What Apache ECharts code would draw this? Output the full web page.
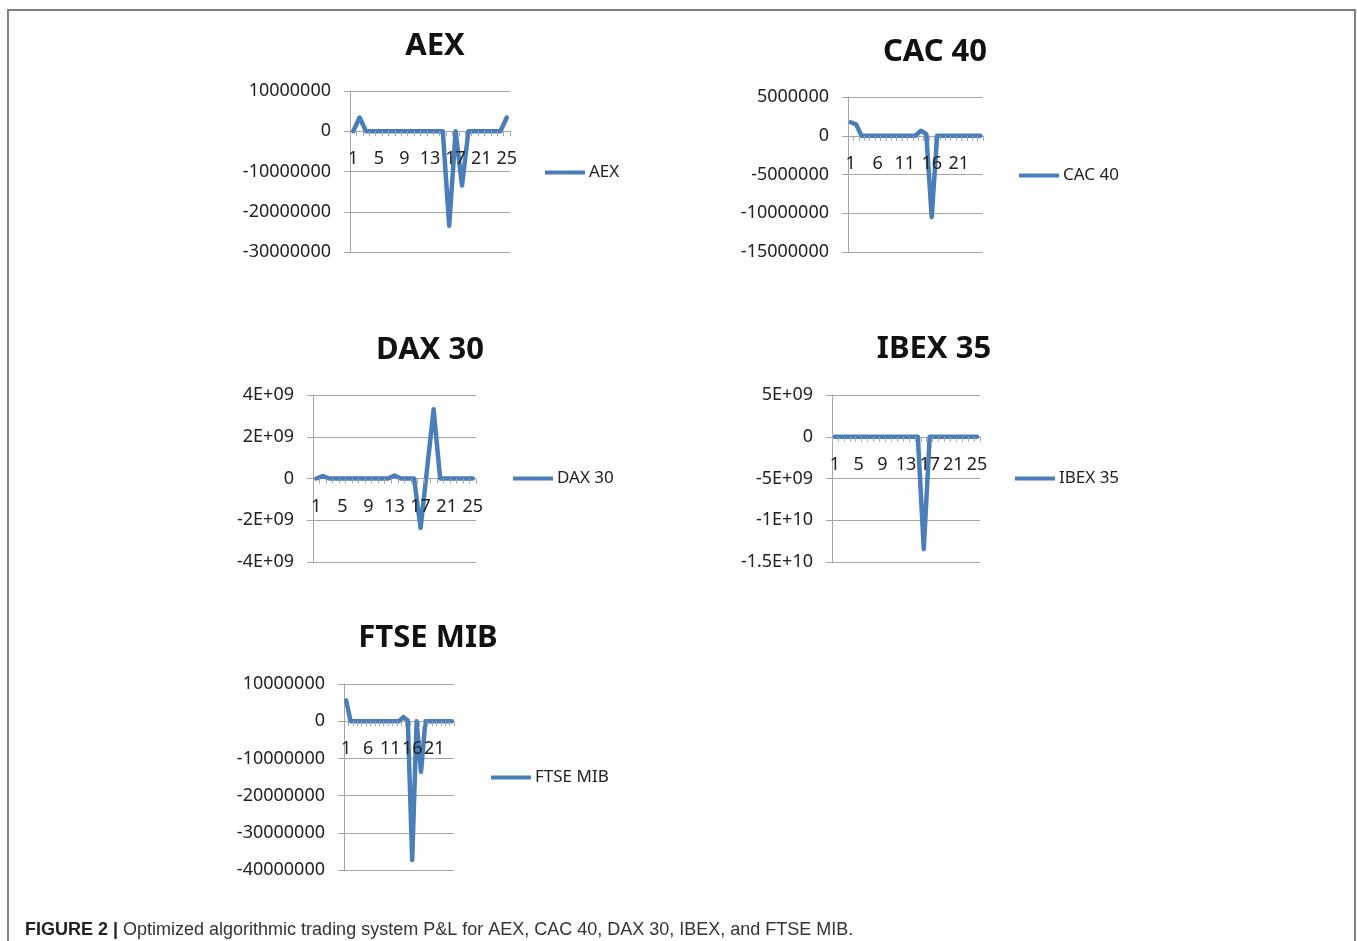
<!DOCTYPE html>
<html>
<head>
<meta charset="utf-8">
<script src="https://cdn.jsdelivr.net/npm/echarts@6/dist/echarts.min.js"></script>
<style>
  html, body { margin: 0; padding: 0; background: #fff; }
  #chart { width: 1357px; height: 941px; }
</style>
</head>
<body>
<div id="chart"></div>
<script>
// categories 1..25 (trading periods)
const categories = ['1','2','3','4','5','6','7','8','9','10','11','12','13','14','15','16','17','18','19','20','21','22','23','24','25']

// P&L
const aex   = [0, 3.4e6, 0, 0, 0, 0, 0, 0, 0, 0, 0, 0, 0, 0, 0, -23.5e6, 0, -13.5e6, 0, 0, 0, 0, 0, 0, 3.4e6]
const cac40 = [1.74e6, 1.48e6, 0, 0, 0, 0, 0, 0, 0, 0, 0, 0, 0, 0.65e6, 0.2e6, -10.5e6, 0, 0, 0, 0, 0, 0, 0, 0, 0]
const dax30 = [0, 0.11e9, 0, 0, 0, 0, 0, 0, 0, 0, 0, 0, 0.14e9, 0, 0, 0, -2.37e9, 0.45e9, 3.32e9, 0, 0, 0, 0, 0, 0]
const ibex35 = [0, 0, 0, 0, 0, 0, 0, 0, 0, 0, 0, 0, 0, 0, 0, -13.47e9, 0, 0, 0, 0, 0, 0, 0, 0, 0]
const ftsemib = [5.6e6, 0, 0, 0, 0, 0, 0, 0, 0, 0, 0, 0, 0, 1.1e6, 0.2e6, -37.3e6, 0, -13.6e6, 0, 0, 0, 0, 0, 0, 0]

const names = ['AEX', 'CAC 40', 'DAX 30', 'IBEX 35', 'FTSE MIB']
const seriesData = [aex, cac40, dax30, ibex35, ftsemib]
// y scale per panel: [min, max, step]
const yScales = [[-30e6, 10e6, 10e6], [-15e6, 5e6, 5e6], [-4e9, 4e9, 2e9], [-15e9, 5e9, 5e9], [-40e6, 10e6, 10e6]]
const xLabelEvery = [3, 4, 3, 3, 4]

// panel layout (plot area, title centre, legend start)
const panels = [
  { left: 350, top: 91, width: 160, height: 161, tx: 435, ty: 46, lx: 545, ly: 172 },
  { left: 848, top: 97, width: 135, height: 155, tx: 935, ty: 52, lx: 1019, ly: 175 },
  { left: 313, top: 395, width: 163, height: 167, tx: 430, ty: 350, lx: 513, ly: 478 },
  { left: 832, top: 395, width: 148, height: 167, tx: 934, ty: 349, lx: 1015, ly: 478 },
  { left: 344, top: 684, width: 110, height: 186, tx: 428, ty: 638, lx: 491, ly: 777 },
]

const blue = '#4a7ebb'
const grey = '#a6a6a6'
const font = 'Noto Sans'

// excel style number: plain up to 1e9, then 4E+09 etc
function excelNum(v) {
  if (v === 0) return '0'
  const a = Math.abs(v)
  if (a < 1e9) return String(v)
  const e = Math.floor(Math.log10(a))
  const m = +(v / Math.pow(10, e)).toFixed(2)
  return m + 'E+' + (e < 10 ? '0' + e : e)
}

const chart = echarts.init(document.getElementById('chart'))

const grid = panels.map(p => ({ left: p.left, top: p.top, width: p.width, height: p.height }))

// category axis crosses at zero (labels too), so shift it up from the bottom.
// its line is the zero gridline of the value axis; labels sit above the series
const xAxis = panels.map((p, i) => {
  const [mn, mx] = yScales[i]
  const zeroUp = p.height * (0 - mn) / (mx - mn)
  return {
    type: 'category',
    gridIndex: i,
    data: categories,
    boundaryGap: true,
    offset: -zeroUp,
    z: 5,
    axisLine: { show: false, onZero: false },
    axisTick: { show: true, interval: 0, length: 5, lineStyle: { color: grey } },
    axisLabel: { interval: xLabelEvery[i], margin: 19, color: '#222', fontFamily: font, fontSize: 18 },
    splitLine: { show: false },
  }
})

const yAxis = panels.map((p, i) => ({
  type: 'value',
  gridIndex: i,
  min: yScales[i][0],
  max: yScales[i][1],
  interval: yScales[i][2],
  axisLine: { show: true, lineStyle: { color: grey, width: 1 } },
  axisTick: { show: true, length: 6, lineStyle: { color: grey } },
  axisLabel: { margin: 19, color: '#222', fontFamily: font, fontSize: 18, formatter: excelNum },
  splitLine: { show: true, lineStyle: { color: grey, width: 1 } },
}))

const series = names.map((n, i) => ({
  name: n,
  type: 'line',
  xAxisIndex: i,
  yAxisIndex: i,
  data: seriesData[i],
  symbol: 'none',
  z: 3,
  lineStyle: { color: blue, width: 4.5, join: 'round', cap: 'round' },
  itemStyle: { color: blue },
  animation: false,
}))

const legend = panels.map((p, i) => ({
  data: [names[i]],
  left: p.lx,
  top: p.ly - 8,
  padding: 0,
  icon: 'rect',
  itemWidth: 40,
  itemHeight: 4,
  textStyle: { color: '#222', fontFamily: font, fontSize: 17, padding: [0, 0, 0, -1] },
}))

const titles = panels.map((p, i) => ({
  type: 'text',
  x: p.tx,
  y: p.ty,
  style: {
    text: names[i],
    align: 'center',
    verticalAlign: 'middle',
    font: 'bold 31px "Noto Sans"',
    fill: '#111',
  },
}))

chart.setOption({
  animation: false,
  grid: grid,
  xAxis: xAxis,
  yAxis: yAxis,
  legend: legend,
  series: series,
  graphic: [
    {
      type: 'rect',
      shape: { x: 8, y: 10, width: 1347, height: 1000 },
      style: { fill: 'none', stroke: '#808080', lineWidth: 2 },
    },
    ...titles,
    {
      type: 'text',
      x: 25,
      y: 930,
      style: {
        text: '{b|FIGURE 2 |} Optimized algorithmic trading system P&L for AEX, CAC 40, DAX 30, IBEX, and FTSE MIB.',
        verticalAlign: 'middle',
        font: '18px "Liberation Sans"',
        fill: '#333',
        rich: { b: { fontWeight: 'bold', fontFamily: 'Liberation Sans', fontSize: 18, fill: '#222' } },
      },
    },
  ],
})
</script>
</body>
</html>
